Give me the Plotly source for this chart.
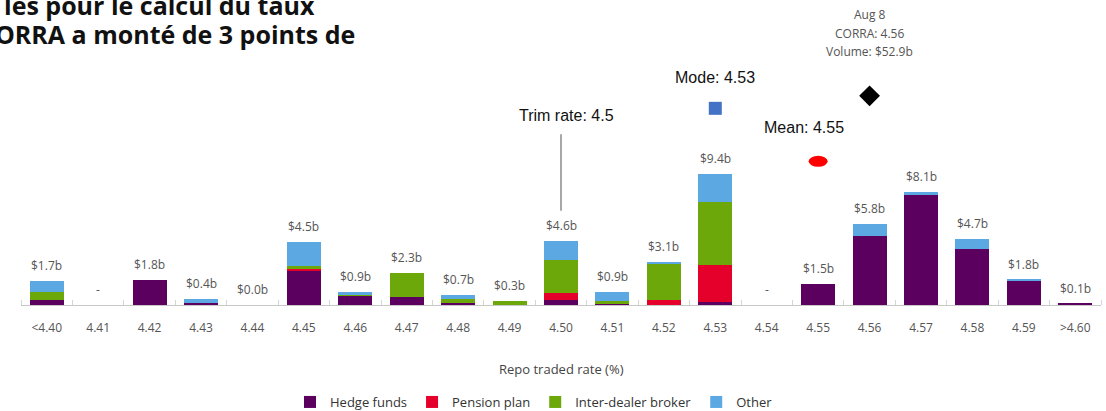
import plotly.graph_objects as go

categories = ["<4.40", "4.41", "4.42", "4.43", "4.44", "4.45", "4.46", "4.47", "4.48", "4.49", "4.50",
              "4.51", "4.52", "4.53", "4.54", "4.55", "4.56", "4.57", "4.58", "4.59", ">4.60"]
hedge_funds = [0.38, 0, 1.8, 0.15, 0, 2.5, 0.7, 0.55, 0.15, 0, 0.35, 0.05, 0, 0.25, 0, 1.5, 4.95, 7.9, 4.0, 1.75, 0.1]
pension_plan = [0, 0, 0, 0, 0, 0.1, 0, 0, 0, 0, 0.5, 0, 0.35, 2.6, 0, 0, 0, 0, 0, 0, 0]
inter_dealer = [0.53, 0, 0, 0, 0, 0.2, 0.05, 1.75, 0.3, 0.3, 2.4, 0.25, 2.65, 4.55, 0, 0, 0, 0, 0, 0, 0]
other = [0.79, 0, 0, 0.25, 0, 1.7, 0.15, 0, 0.25, 0, 1.35, 0.6, 0.1, 2.0, 0, 0, 0.85, 0.2, 0.7, 0.05, 0]
total_labels = ["$1.7b", "-", "$1.8b", "$0.4b", "$0.0b", "$4.5b", "$0.9b", "$2.3b", "$0.7b", "$0.3b", "$4.6b",
                "$0.9b", "$3.1b", "$9.4b", "-", "$1.5b", "$5.8b", "$8.1b", "$4.7b", "$1.8b", "$0.1b"]

series_names = ["Hedge funds", "Pension plan", "Inter-dealer broker", "Other"]
series_values = [hedge_funds, pension_plan, inter_dealer, other]
series_colors = ["#5B005F", "#E4002B", "#6CA80A", "#5CA8E3"]

# Reference markers (category, height in chart units)
mode_cat, mode_y = "4.53", 14.1
mean_cat, mean_y = "4.55", 10.3
corra_cat, corra_y = "4.56", 15.0
trim_cat, trim_y = "4.50", [6.75, 12.25]
corra_info = ["Aug 8", "CORRA: 4.56", "Volume: $52.9b"]

x_idx = list(range(len(categories)))
pos = {c: i for i, c in enumerate(categories)}

fig = go.Figure()
for name, vals, col in zip(series_names, series_values, series_colors):
    fig.add_trace(go.Bar(x=x_idx, y=vals, name=name, marker=dict(color=col, line=dict(width=0)),
                         width=0.66, hoverinfo="skip"))

totals = [sum(v) for v in zip(*series_values)]
for i, (t, lab) in enumerate(zip(totals, total_labels)):
    fig.add_annotation(x=i, y=t, text=lab, showarrow=False, yanchor="bottom", yshift=5,
                       font=dict(size=12, color="#555555", family="Open Sans"))

# trim rate line
fig.add_trace(go.Scatter(x=[pos[trim_cat]] * 2, y=trim_y, mode="lines",
                         line=dict(color="#8a8a8a", width=1.5), showlegend=False, hoverinfo="skip"))
# mode square
fig.add_trace(go.Scatter(x=[pos[mode_cat]], y=[mode_y], mode="markers",
                         marker=dict(symbol="square", size=13, color="#4472C4"), showlegend=False, hoverinfo="skip"))
# CORRA diamond
fig.add_trace(go.Scatter(x=[pos[corra_cat]], y=[corra_y], mode="markers",
                         marker=dict(symbol="diamond", size=16, color="#000000"), showlegend=False, hoverinfo="skip"))
# mean ellipse
fig.add_shape(type="circle", xref="x", yref="y", xsizemode="pixel", ysizemode="pixel",
              xanchor=pos[mean_cat], yanchor=mean_y, x0=-9.5, x1=9.5, y0=-5.5, y1=5.5,
              fillcolor="#FF0000", line=dict(width=0))

ann_font = dict(size=16, color="#111111", family="Liberation Sans")
fig.add_annotation(x=pos[mode_cat], y=16.3, text="Mode: 4.53", showarrow=False, font=ann_font)
fig.add_annotation(x=pos[mean_cat] - 0.27, y=12.75, text="Mean: 4.55", showarrow=False, font=ann_font)
fig.add_annotation(x=pos[trim_cat] + 0.1, y=13.6, text="Trim rate: 4.5", showarrow=False, font=ann_font)
grey = dict(size=12, color="#555555", family="Open Sans")
for yy, txt in zip([20.85, 19.5, 18.15], corra_info):
    fig.add_annotation(x=pos[corra_cat], y=yy, text=txt, showarrow=False, font=grey)

# title fragments (cropped at left, as in the source)
title_font = dict(size=25, color="#111111", family="Open Sans", weight="bold")
fig.add_annotation(xref="paper", yref="paper", x=(2 - 21) / 1080, y=(305 - 5) / 295, xanchor="left",
                   yanchor="middle", text="les pour le calcul du taux", showarrow=False, font=title_font)
fig.add_annotation(xref="paper", yref="paper", x=(357 - 21) / 1080, y=(305 - 34) / 295, xanchor="right",
                   yanchor="middle", text="CORRA a monté de 3 points de", showarrow=False, font=title_font)

fig.add_annotation(xref="paper", yref="paper", x=0.5, y=(305 - 369) / 295, yanchor="middle",
                   text="Repo traded rate (%)",
                   showarrow=False, font=dict(size=13, color="#444444", family="Open Sans"))

fig.update_layout(
    width=1106, height=411, barmode="stack", bargap=0.34,
    margin=dict(l=21, r=5, t=10, b=106, autoexpand=False),
    plot_bgcolor="white", paper_bgcolor="white",
    font=dict(family="Open Sans", color="#555555", size=12),
    xaxis=dict(range=[-0.5, 20.5], tickmode="array", tickvals=x_idx, ticktext=categories,
               showgrid=False, zeroline=False, showline=True, linecolor="#C8C8C8", linewidth=1,
               ticks="", tickfont=dict(size=12, color="#555555"), ticklabelstandoff=12, automargin=False,
               minor=dict(tickmode="array", tickvals=[i - 0.5 for i in range(len(categories) + 1)],
                          ticks="inside", ticklen=5, tickcolor="#D5D5D5", showgrid=False)),
    yaxis=dict(range=[0, 21.15], visible=False),
    showlegend=True,
    legend=dict(orientation="h", x=0.475, xanchor="center", y=(305 - 402) / 295, yanchor="middle",
                font=dict(size=13, color="#333333", family="Open Sans"), traceorder="normal"),
)

fig.write_html("out.html", config={"displayModeBar": False},
               post_script="document.body.style.margin='0';document.body.style.overflow='hidden';")
